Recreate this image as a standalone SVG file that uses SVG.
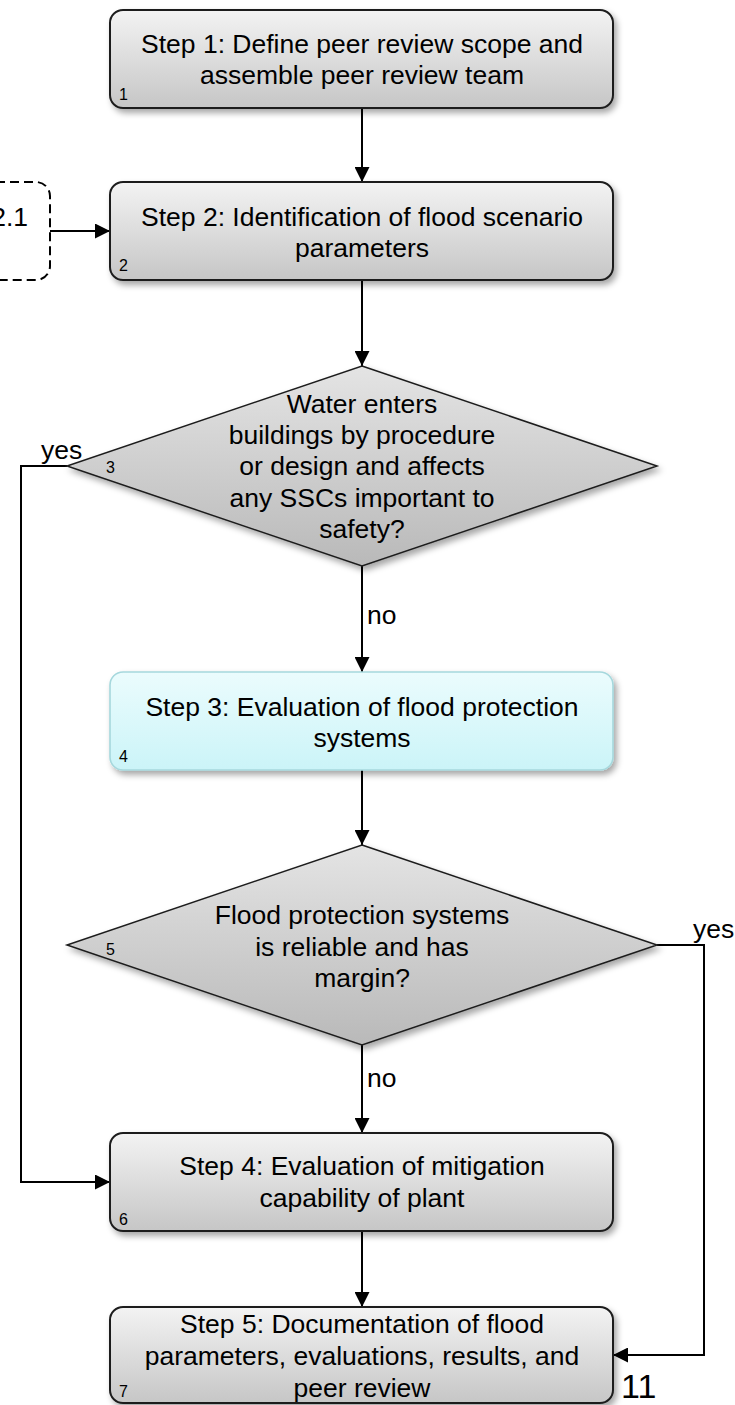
<svg xmlns="http://www.w3.org/2000/svg" width="735" height="1405" viewBox="0 0 735 1405">
  <defs>
    <linearGradient id="gradGray" x1="0" y1="0" x2="0" y2="1">
      <stop offset="0" stop-color="#f3f3f3"/>
      <stop offset="1" stop-color="#c6c6c6"/>
    </linearGradient>
    <linearGradient id="gradDiamond" x1="0" y1="0" x2="0" y2="1">
      <stop offset="0" stop-color="#e4e4e4"/>
      <stop offset="1" stop-color="#b9b9b9"/>
    </linearGradient>
    <linearGradient id="gradCyan" x1="0" y1="0" x2="0" y2="1">
      <stop offset="0" stop-color="#ebfcfd"/>
      <stop offset="1" stop-color="#cbf4f8"/>
    </linearGradient>
    <filter id="shadow" x="-10%" y="-20%" width="120%" height="150%">
      <feDropShadow dx="3" dy="4" stdDeviation="3" flood-color="#000" flood-opacity="0.35"/>
    </filter>
    <marker id="arrow" markerUnits="userSpaceOnUse" markerWidth="15" markerHeight="15" refX="15" refY="7.5" orient="auto">
      <path d="M0,0 L15,7.5 L0,15 z" fill="#000"/>
    </marker>
  </defs>
  <style>
    .box { fill: url(#gradGray); stroke: #1c1c1c; stroke-width: 2; filter: url(#shadow); }
    .cyan { fill: url(#gradCyan); stroke: #a6d8dd; stroke-width: 1.6; filter: url(#shadow); }
    .diamond { fill: url(#gradDiamond); stroke: #1c1c1c; stroke-width: 1.5; filter: url(#shadow); }
    .dashed { fill: none; stroke: #000; stroke-width: 2; stroke-dasharray: 9 5; }
    .conn { fill: none; stroke: #000; stroke-width: 2; }
    text { font-family: "Liberation Sans", Arial, sans-serif; fill: #000; }
    .t { font-size: 26.5px; text-anchor: middle; }
    .num { font-size: 16px; }
    .lbl { font-size: 26.5px; }
  </style>

  <!-- connectors -->
  <g id="connectors">
    <path class="conn" d="M362,108 V182" marker-end="url(#arrow)"/>
    <path class="conn" d="M50,231 H110" marker-end="url(#arrow)"/>
    <path class="conn" d="M362,280 V366" marker-end="url(#arrow)"/>
    <path class="conn" d="M362,566 V672" marker-end="url(#arrow)"/>
    <path class="conn" d="M362,770 V845" marker-end="url(#arrow)"/>
    <path class="conn" d="M362,1045 V1133" marker-end="url(#arrow)"/>
    <path class="conn" d="M362,1231 V1307" marker-end="url(#arrow)"/>
    <path class="conn" d="M67,466 H21 V1182 H110" marker-end="url(#arrow)"/>
    <path class="conn" d="M657,945 H704 V1355 H613" marker-end="url(#arrow)"/>
    <text class="lbl" x="41" y="459">yes</text>
    <text class="lbl" x="693" y="938">yes</text>
    <text class="lbl" x="367" y="624">no</text>
    <text class="lbl" x="367" y="1087">no</text>
  </g>

  <!-- external reference box, partly outside the page -->
  <g id="ref-2-1">
    <rect class="dashed" x="-60" y="182" width="110" height="98" rx="14"/>
    <text class="lbl" x="28" y="226" text-anchor="end">2.1</text>
  </g>

  <g id="step1">
    <rect class="box" x="110" y="10" width="503" height="98" rx="13"/>
    <text class="t" x="362" y="53">Step 1: Define peer review scope and</text>
    <text class="t" x="362" y="84">assemble peer review team</text>
    <text class="num" x="119" y="100">1</text>
  </g>

  <g id="step2">
    <rect class="box" x="110" y="182" width="503" height="98" rx="13"/>
    <text class="t" x="362" y="226">Step 2: Identification of flood scenario</text>
    <text class="t" x="362" y="257">parameters</text>
    <text class="num" x="119" y="271">2</text>
  </g>

  <g id="decision-water">
    <polygon class="diamond" points="362,366 657,466 362,566 67,466"/>
    <text class="t" x="362" y="413">Water enters</text>
    <text class="t" x="362" y="444">buildings by procedure</text>
    <text class="t" x="362" y="475">or design and affects</text>
    <text class="t" x="362" y="507">any SSCs important to</text>
    <text class="t" x="362" y="538">safety?</text>
    <text class="num" x="106" y="473">3</text>
  </g>

  <g id="step3">
    <rect class="cyan" x="110" y="672" width="503" height="98" rx="13"/>
    <text class="t" x="362" y="716">Step 3: Evaluation of flood protection</text>
    <text class="t" x="362" y="747">systems</text>
    <text class="num" x="119" y="762">4</text>
  </g>

  <g id="decision-protection">
    <polygon class="diamond" points="362,845 657,945 362,1045 67,945"/>
    <text class="t" x="362" y="924">Flood protection systems</text>
    <text class="t" x="362" y="956">is reliable and has</text>
    <text class="t" x="362" y="987">margin?</text>
    <text class="num" x="106" y="955">5</text>
  </g>

  <g id="step4">
    <rect class="box" x="110" y="1133" width="503" height="98" rx="13"/>
    <text class="t" x="362" y="1175">Step 4: Evaluation of mitigation</text>
    <text class="t" x="362" y="1207">capability of plant</text>
    <text class="num" x="119" y="1225">6</text>
  </g>

  <g id="step5">
    <rect class="box" x="110" y="1307" width="503" height="96" rx="13"/>
    <text class="t" x="362" y="1333">Step 5: Documentation of flood</text>
    <text class="t" x="362" y="1365">parameters, evaluations, results, and</text>
    <text class="t" x="362" y="1397">peer review</text>
    <text class="num" x="119" y="1397">7</text>
  </g>

  <text x="621" y="1398" font-size="34">11</text>
</svg>
